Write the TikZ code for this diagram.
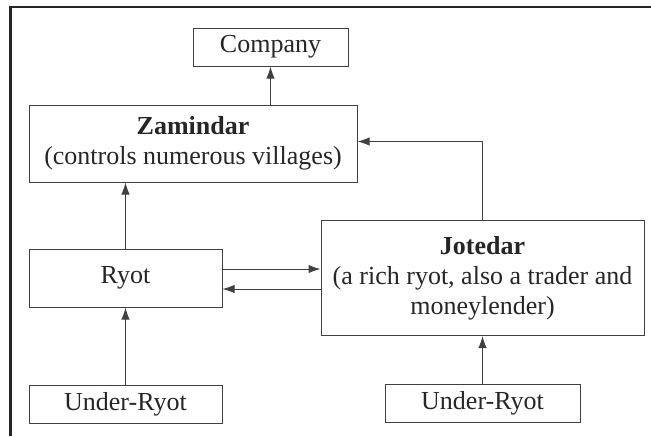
\documentclass[tikz,border=0pt]{standalone}
\usepackage{fontspec}
\setmainfont{Liberation Serif}
\usepackage{tikz}
\usetikzlibrary{positioning,arrows.meta}

\begin{document}
\begin{tikzpicture}[
        x=0.5pt, y=-0.5pt,
        tier/.style={
            rectangle, draw = black!75, line width = 0.5pt, text = black!85,
            inner sep = 0pt, align = center, font = \fontsize{13}{15}\selectfont
        },
        flow/.style={
            draw = black!75, line width = 0.5pt, -{Latex[length=6pt,width=4.2pt]}
        },
    ]
    \useasboundingbox (0,0) rectangle (651,436);

    % frame
    \draw[black!85, line width=1pt] (9,7) -- (651,7);
    \draw[black!85, line width=1.5pt] (10,7) -- (10,436);

    \node (zamindar) [tier, minimum width=164pt, minimum height=38.5pt] at (193,143.5) {
        \textbf{Zamindar} \\ (controls numerous villages)
    };
    \node (company) [tier, minimum width=77.5pt, minimum height=19pt] at (270.5,47) {Company};
    \draw[flow] (zamindar.north -| company.south) -- (company.south);

    \node (ryot) [tier, minimum width=96.5pt, minimum height=29pt, below right=33pt and 0pt of zamindar.south west] {Ryot};
    \draw[flow] (ryot.north) -- (ryot.north |- zamindar.south);

    \node (jotedar) [tier, minimum width=161.5pt, minimum height=57.5pt, right=49pt of ryot] {
        \textbf{Jotedar} \\ (a rich ryot, also a trader and \\ moneylender)
    };
    \draw[flow] (jotedar.north) |- ([yshift=1pt]zamindar.east);
    \draw[flow] ([yshift=4.5pt]ryot.east) -- ([yshift=4.5pt]ryot.east -| jotedar.west);
    \draw[flow] ([yshift=-5.5pt]ryot.east -| jotedar.west) -- ([yshift=-5.5pt]ryot.east);

    \node (underRyotLeft) [tier, minimum width=96.5pt, minimum height=19pt, below=38.5pt of ryot] {Under-Ryot};
    \draw[flow] (underRyotLeft.north) -- (ryot.south);

    \node (underRyotRight) [tier, minimum width=97.5pt, minimum height=19pt, below=24pt of jotedar] {Under-Ryot};
    \draw[flow] (underRyotRight.north) -- (jotedar.south);

\end{tikzpicture}
\end{document}
